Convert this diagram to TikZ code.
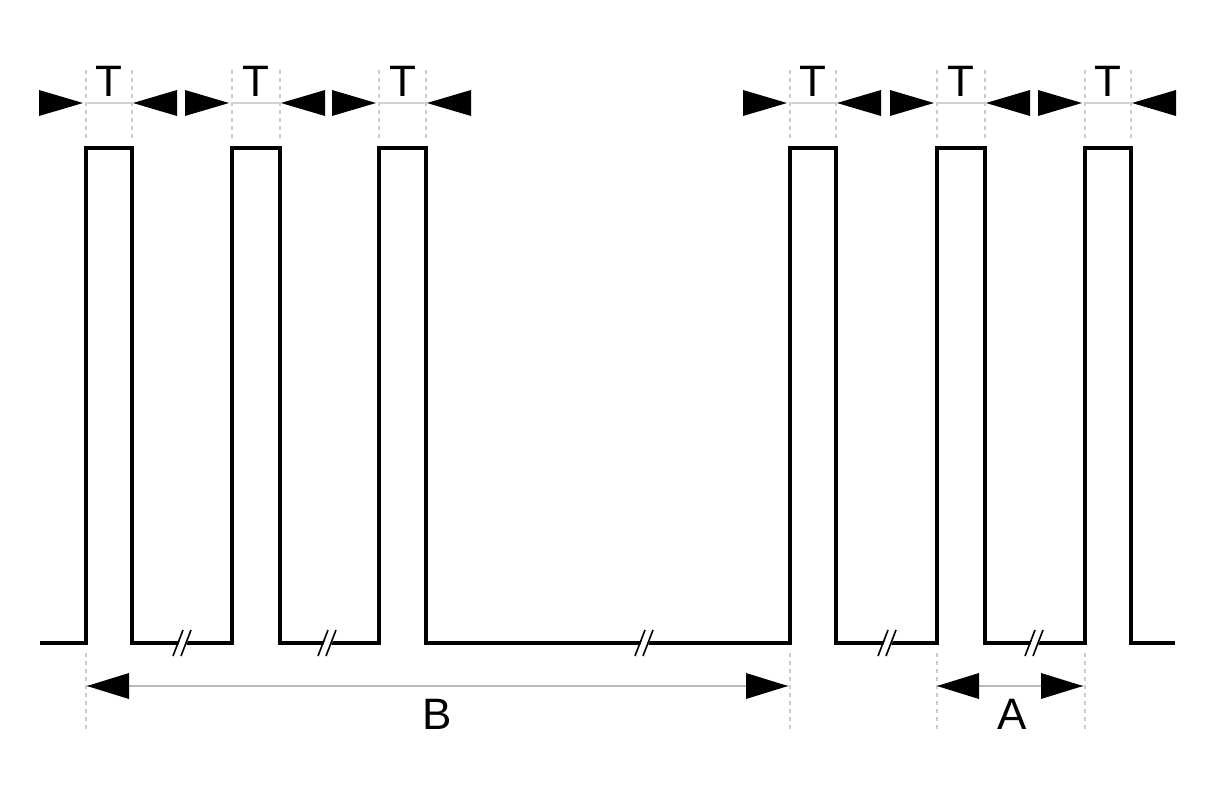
\documentclass[tikz,border=0pt]{standalone}
\usepackage{fontspec}
\setmainfont{Liberation Sans}
\usetikzlibrary{calc}
\begin{document}
\begin{tikzpicture}[x=1pt,y=-1pt,
  signal/.style={line width=3.5pt, line join=miter, line cap=butt},
  guide/.style={draw=gray!40, line width=1.6pt, dash pattern=on 4pt off 4pt},
  dimline/.style={draw=gray!35, line width=2.5pt},
  bdimline/.style={draw=gray!55, line width=1.5pt},
  tipfill/.style={fill=black},
  lbl/.style={font=\fontsize{44}{44}\selectfont, inner sep=0pt},
  brk/.style={draw=black, line width=1.6pt}]
\useasboundingbox[fill=white] (0,0) rectangle (1227,800);

% pulse edge coordinates
\foreach \i/\r/\f in {1/86/132,2/232/280,3/379/426,4/790/836,5/937/985,6/1085/1131}{
  \coordinate (r\i) at (\r,643);
  \coordinate (f\i) at (\f,643);
  \coordinate (rt\i) at (\r,148);
  \coordinate (ft\i) at (\f,148);
}
\coordinate (start) at (40,643);
\coordinate (end) at (1175,643);

% top guides
\foreach \x in {86,132,232,280,379,426,790,836,937,985,1085,1131}
  \draw[guide] (\x,70) -- (\x,140);
% bottom guides
\foreach \x in {86,790,937,1085}
  \draw[guide] (\x,653) -- (\x,730);

% signal
\draw[signal] (start) -- (r1) -- (rt1) -- (ft1) -- (f1)
  -- (r2) -- (rt2) -- (ft2) -- (f2)
  -- (r3) -- (rt3) -- (ft3) -- (f3)
  -- (r4) -- (rt4) -- (ft4) -- (f4)
  -- (r5) -- (rt5) -- (ft5) -- (f5)
  -- (r6) -- (rt6) -- (ft6) -- (f6) -- (end);

% break marks
\foreach \x in {183,328,645,888,1035}{
  \fill[white] (\x-9,657) -- (\x+1,629) -- (\x+9,629) -- (\x-1,657) -- cycle;
  \draw[brk] (\x-10,656) -- (\x+0,630);
  \draw[brk] (\x-2,656) -- (\x+8,630);
}

% T dimension arrows
\foreach \i/\r/\f in {1/86/132,2/232/280,3/379/426,4/790/836,5/937/985,6/1085/1131}{
  \draw[dimline] (\r,103) -- (\f,103);
  \fill[tipfill] (\r-47,90) -- (\r-3,103) -- (\r-47,116) -- cycle;
  \fill[tipfill] (\f+45,90) -- (\f+1,103) -- (\f+45,116) -- cycle;
  \node[lbl] (T\i) at ({(\r+\f)/2},81) {T};
}

% B dimension
\coordinate (bl) at (87,686);
\coordinate (br) at (788,686);
\draw[bdimline] (bl) -- (br);
\fill[tipfill] (bl) -- ++(42,-13) -- ++(0,26) -- cycle;
\fill[tipfill] (br) -- ++(-42,-13) -- ++(0,26) -- cycle;
\node[lbl] (B) at (437,714) {B};

% A dimension
\coordinate (al) at (937,686);
\coordinate (ar) at (1083,686);
\draw[bdimline] (al) -- (ar);
\fill[tipfill] (al) -- ++(42,-13) -- ++(0,26) -- cycle;
\fill[tipfill] (ar) -- ++(-42,-13) -- ++(0,26) -- cycle;
\node[lbl] (A) at (1012,714) {A};
\end{tikzpicture}
\end{document}
